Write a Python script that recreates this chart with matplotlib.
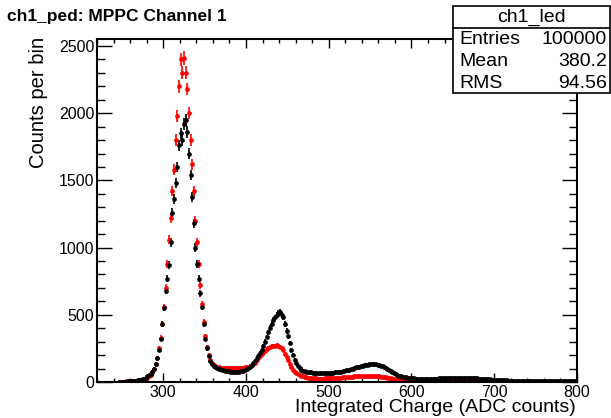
import numpy as np
import matplotlib.pyplot as plt
from matplotlib.patches import Rectangle
from matplotlib.ticker import MultipleLocator

plt.rcParams['font.family'] = ['Liberation Sans', 'DejaVu Sans']

# histogram binning: 280 bins of width 2 between 240 and 800
bin_lo, bin_hi, bin_w = 240, 800, 2

# ch1_led (black), counts per bin, 10 bins per row
led_counts = [
    0, 0, 0, 1, 2, 2, 3, 3, 4, 5,
    6, 7, 8, 10, 12, 14, 17, 20, 25, 32,
    42, 52, 62, 78, 100, 135, 180, 240, 320, 430,
    550, 680, 770, 870, 1040, 1260, 1360, 1480, 1600, 1760,
    1850, 1800, 1920, 1950, 1860, 1700, 1540, 1380, 1180, 1000,
    880, 770, 660, 560, 430, 320, 250, 190, 155, 135,
    120, 110, 105, 100, 95, 90, 88, 85, 82, 80,
    78, 77, 76, 76, 77, 78, 80, 82, 85, 90,
    95, 102, 112, 125, 140, 155, 175, 195, 215, 240,
    265, 300, 335, 370, 405, 435, 460, 480, 495, 510,
    520, 500, 480, 430, 380, 340, 290, 240, 200, 165,
    140, 120, 102, 92, 85, 80, 78, 76, 75, 72,
    70, 68, 67, 66, 65, 65, 65, 66, 66, 67,
    68, 69, 70, 71, 72, 74, 76, 78, 80, 83,
    86, 90, 93, 97, 100, 104, 108, 112, 115, 118,
    121, 124, 127, 129, 131, 133, 134, 133, 132, 130,
    127, 122, 117, 110, 103, 95, 87, 79, 71, 64,
    58, 52, 47, 43, 39, 36, 34, 32, 30, 29,
    28, 27, 26, 25, 25, 24, 24, 24, 24, 24,
    24, 24, 25, 25, 26, 26, 27, 27, 28, 28,
    29, 29, 30, 30, 31, 31, 32, 32, 32, 32,
    32, 32, 32, 31, 31, 30, 30, 29, 28, 27,
    26, 25, 24, 23, 22, 21, 20, 19, 18, 17,
    16, 15, 14, 14, 13, 13, 12, 12, 11, 11,
    11, 10, 10, 10, 9, 9, 9, 9, 8, 8,
    8, 8, 8, 7, 7, 7, 7, 7, 7, 6,
    6, 6, 6, 6, 6, 6, 5, 5, 5, 5,
    5, 5, 5, 5, 5, 4, 4, 4, 4, 4,
]

# ch1_ped (red)
ped_counts = [
    0, 0, 0, 1, 2, 3, 3, 4, 5, 6,
    7, 8, 9, 10, 12, 14, 16, 19, 22, 26,
    33, 42, 55, 72, 100, 135, 180, 250, 330, 430,
    560, 700, 880, 1060, 1220, 1420, 1580, 1800, 1980, 2200,
    2400, 2300, 2410, 2300, 2180, 2000, 1800, 1620, 1420, 1200,
    1040, 880, 720, 580, 450, 340, 260, 200, 160, 140,
    125, 118, 112, 108, 105, 104, 103, 103, 103, 103,
    103, 104, 104, 104, 104, 104, 104, 105, 106, 108,
    110, 115, 120, 127, 135, 145, 160, 175, 195, 210,
    220, 232, 243, 252, 260, 265, 268, 270, 272, 268,
    262, 250, 235, 210, 185, 160, 135, 112, 92, 78,
    68, 58, 52, 46, 42, 38, 35, 32, 30, 29,
    28, 27, 27, 26, 26, 26, 26, 27, 27, 28,
    28, 29, 29, 30, 31, 31, 32, 33, 34, 35,
    36, 37, 38, 39, 40, 41, 42, 43, 44, 45,
    45, 46, 46, 46, 46, 46, 45, 45, 44, 43,
    42, 40, 38, 36, 34, 32, 30, 28, 26, 24,
    22, 20, 18, 16, 14, 13, 12, 11, 10, 9,
    9, 8, 8, 8, 7, 7, 7, 7, 7, 7,
    7, 7, 7, 7, 7, 7, 7, 8, 8, 8,
    8, 8, 8, 8, 9, 9, 9, 9, 9, 9,
    9, 9, 9, 8, 8, 8, 8, 7, 7, 7,
    7, 6, 6, 6, 6, 5, 5, 5, 5, 4,
    4, 4, 4, 4, 3, 3, 3, 3, 3, 3,
    3, 3, 3, 3, 3, 3, 3, 2, 2, 2,
    2, 2, 2, 2, 2, 2, 2, 2, 2, 2,
    2, 2, 2, 2, 1, 1, 1, 1, 1, 1,
    1, 1, 1, 1, 1, 1, 1, 1, 1, 1,
]

stats_name = "ch1_led"
stats_rows = [("Entries", "100000"), ("Mean", "380.2"), ("RMS", "94.56")]

centers = np.arange(bin_lo + bin_w / 2, bin_hi, bin_w)
led = np.array(led_counts, dtype=float)
ped = np.array(ped_counts, dtype=float)

W, H = 611, 418
fig = plt.figure(figsize=(W / 100, H / 100), dpi=100)
ax = fig.add_axes([97 / W, 1 - 382 / H, 480 / W, 343 / H])

for y, col in [(ped, "red"), (led, "black")]:
    m = y > 0
    ax.errorbar(centers[m], y[m], yerr=np.sqrt(y[m]), xerr=bin_w / 2,
                fmt="o", ms=3.4, color=col, ecolor=col, elinewidth=1.2,
                capsize=0, mew=0)

ax.set_xlim(220, 800)
ax.set_ylim(0, 2552)
ax.xaxis.set_major_locator(MultipleLocator(100))
ax.xaxis.set_minor_locator(MultipleLocator(20))
ax.yaxis.set_major_locator(MultipleLocator(500))
ax.yaxis.set_minor_locator(MultipleLocator(100))
ax.tick_params(which="both", direction="in", top=True, right=True,
               labelsize=11.5, width=1, pad=2)
ax.tick_params(axis="x", which="major", length=6.5)
ax.tick_params(axis="x", which="minor", length=3.2)
ax.tick_params(axis="y", which="major", length=11)
ax.tick_params(axis="y", which="minor", length=5.5)
for s in ax.spines.values():
    s.set_linewidth(1.5)

fig.text(576 / W, 1 - 408 / H, "Integrated Charge (ADC counts)", ha="right",
         va="center", fontsize=14)
fig.text(39 / W, 1 - 37 / H, "Counts per bin", ha="center", va="top",
         rotation=90, fontsize=14.5)
fig.text(7 / W, 1 - 17 / H, "ch1_ped: MPPC Channel 1", ha="left",
         va="center", fontsize=12.5, fontweight="bold")

# stats box
bx0, bx1 = 453 / W, 610 / W
by0, by1 = 1 - 93 / H, 1 - 6 / H
box = Rectangle((bx0, by0), bx1 - bx0, by1 - by0,
                transform=fig.transFigure, facecolor="white",
                edgecolor="black", lw=1.2, zorder=10)
fig.add_artist(box)
hy = 1 - 28 / H
fig.add_artist(plt.Line2D([bx0, bx1], [hy, hy], transform=fig.transFigure,
                          color="black", lw=1.2, zorder=11))
fig.text((bx0 + bx1) / 2, 1 - 17 / H, stats_name, ha="center",
         va="center", fontsize=14, zorder=12)
for i, (k, v) in enumerate(stats_rows):
    yy = 1 - (40 + i * 21.7) / H
    fig.text(bx0 + 6 / W, yy, k, ha="left", va="center", fontsize=14,
             zorder=12)
    fig.text(bx1 - 3 / W, yy, v, ha="right", va="center", fontsize=14,
             zorder=12)

fig.savefig("out.png", dpi=100)
